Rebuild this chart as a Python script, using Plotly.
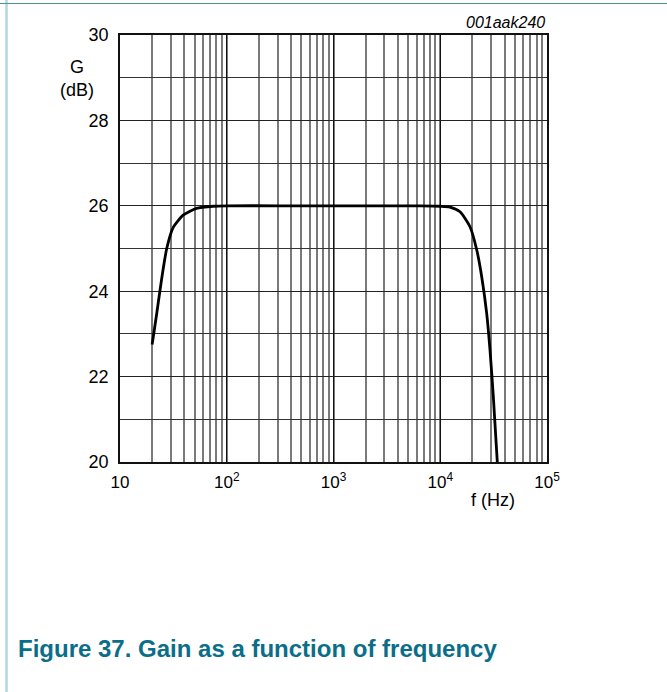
import plotly.graph_objects as go

# Gain curve of the amplifier, frequency in Hz and gain in dB
freq_hz = [20, 22, 24.6, 27.4, 31.6, 39, 52, 75, 100, 300, 1000, 3000,
           6500, 10000, 12330, 15310, 19000, 21950, 24450, 27230, 29250,
           31420, 34230]
gain_db = [22.75, 23.45, 24.3, 25.0, 25.5, 25.78, 25.94, 25.99, 26.0, 26.0,
           26.0, 26.0, 26.0, 25.99, 25.97, 25.86, 25.51, 24.97, 24.34, 23.48,
           22.62, 21.53, 20.0]

x_tick_vals = [10, 100, 1000, 10000, 100000]
x_tick_text = ["10", "10<sup>2</sup>", "10<sup>3</sup>", "10<sup>4</sup>",
               "10<sup>5</sup>"]
y_tick_vals = [20, 22, 24, 26, 28, 30]
y_tick_text = ["20", "22", "24", "26", "28", "30"]

FONT = "Liberation Sans, Arial, sans-serif"

fig = go.Figure()
fig.add_trace(go.Scatter(
    x=freq_hz, y=gain_db, mode="lines",
    line=dict(color="#000000", width=2.8, shape="spline", smoothing=0.6),
    showlegend=False, hoverinfo="skip",
))

fig.update_layout(
    width=667, height=692,
    margin=dict(l=120, r=120, t=35, b=230),
    paper_bgcolor="white", plot_bgcolor="white",
    font=dict(family=FONT, size=18, color="#000000"),
    xaxis=dict(
        type="log", range=[1, 5],
        tickvals=x_tick_vals, ticktext=x_tick_text,
        ticks="outside", ticklen=4, tickcolor="rgba(0,0,0,0)",
        showgrid=True, gridcolor="#111111", gridwidth=1.2,
        minor=dict(dtick="D1", showgrid=True, gridcolor="#7a7a7a",
                   gridwidth=1.5, ticks=""),
        showline=True, linecolor="#111111", linewidth=1.5, mirror=True,
        zeroline=False, tickfont=dict(size=17),
    ),
    yaxis=dict(
        range=[20, 30],
        tickvals=y_tick_vals, ticktext=y_tick_text,
        ticks="outside", ticklen=6, tickcolor="rgba(0,0,0,0)",
        showgrid=True, gridcolor="#222222", gridwidth=1.2,
        minor=dict(dtick=1, showgrid=True, gridcolor="#333333",
                   gridwidth=1.2, ticks=""),
        showline=True, linecolor="#111111", linewidth=1.5, mirror=True,
        zeroline=False, tickfont=dict(size=18),
    ),
)


def ann(text, x, y, size, xanchor="center", **kw):
    return dict(text=text, x=x, y=y, xref="paper", yref="paper",
                xanchor=xanchor, yanchor="middle", showarrow=False,
                font=dict(size=size, **kw))


annotations = [
    ann("G", -0.1014, 0.924, 18),
    ann("(dB)", -0.1014, 0.871, 18),
    ann("f (Hz)", 0.8735, -0.089, 18),
    ann("<i>001aak240</i>", 1.0, 1.0304, 16, xanchor="right"),
    ann("<b>Figure 37. Gain as a function of frequency</b>",
        -0.2436, -0.4379, 24, xanchor="left", color="#0b6e88"),
]
fig.update_layout(annotations=annotations)

# Page frame: light blue rule on the left and thin teal rule along the top
px_to_x = lambda px: (px - 120) / 427
px_to_y = lambda py: (462 - py) / 427
fig.add_shape(type="line", xref="paper", yref="paper",
              x0=px_to_x(6.5), x1=px_to_x(6.5), y0=px_to_y(0), y1=px_to_y(692),
              line=dict(color="#b3d6e0", width=2.5))
fig.add_shape(type="line", xref="paper", yref="paper",
              x0=px_to_x(0), x1=px_to_x(667), y0=px_to_y(3.5), y1=px_to_y(3.5),
              line=dict(color="#4d8ea0", width=1.2))

fig.write_html("out.html")
